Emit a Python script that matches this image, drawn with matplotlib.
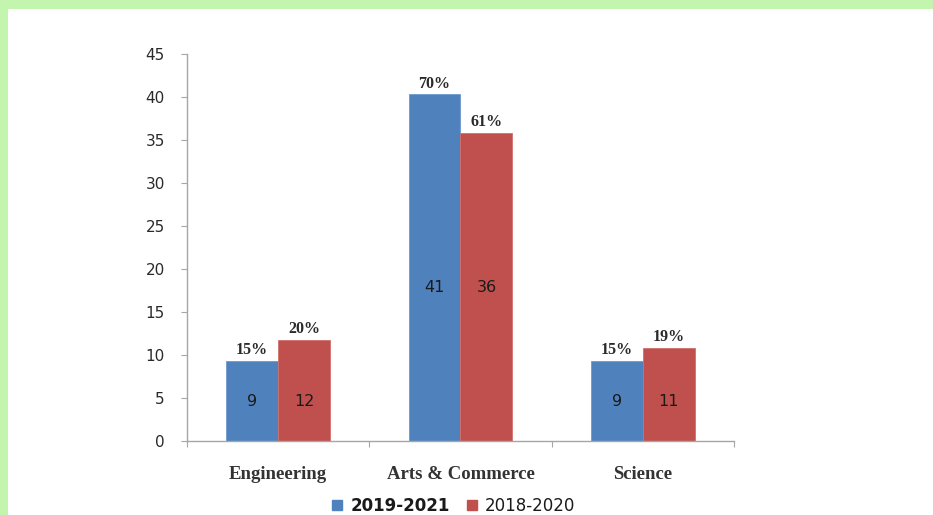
import matplotlib
matplotlib.use("Agg")
import matplotlib.pyplot as plt
from matplotlib.patches import Rectangle
from matplotlib.lines import Line2D
import numpy as np

categories = ["Engineering", "Arts & Commerce", "Science"]
series_names = ["2019-2021", "2018-2020"]
values_2019_2021 = [9.3, 40.3, 9.3]
values_2018_2020 = [11.8, 35.8, 10.8]
labels_2019_2021 = ["9", "41", "9"]
labels_2018_2020 = ["12", "36", "11"]
pct_2019_2021 = ["15%", "70%", "15%"]
pct_2018_2020 = ["20%", "61%", "19%"]
yticks = [0, 5, 10, 15, 20, 25, 30, 35, 40, 45]

blue = "#4f81bd"
red = "#c0504d"
green = "#c3f5ae"
W, H = 933, 515

fig = plt.figure(figsize=(W / 100, H / 100), dpi=100)
fig.patch.set_facecolor("white")
fig.patches.append(Rectangle((0, 1 - 9 / H), 1, 9 / H, transform=fig.transFigure,
                             facecolor=green, edgecolor="none", zorder=0))
fig.patches.append(Rectangle((0, 0), 8 / W, 1, transform=fig.transFigure,
                             facecolor=green, edgecolor="none", zorder=0))

ax = fig.add_axes([187 / W, (H - 441) / H, (734 - 187) / W, (441 - 54) / H])
x = np.arange(len(categories))
bw = 0.285
b1 = ax.bar(x - bw / 2, values_2019_2021, bw, color=blue, edgecolor="#6f9bd0", linewidth=0.6, zorder=2)
b2 = ax.bar(x + bw / 2, values_2018_2020, bw, color=red, edgecolor="#d06f6c", linewidth=0.6, zorder=2)

ax.set_xlim(-0.5, len(categories) - 0.5)
ax.set_ylim(0, 45)
ax.set_yticks(yticks)
ax.set_yticklabels([str(t) for t in yticks], fontsize=11, color="#2a2a2a", family="DejaVu Sans")
ax.tick_params(axis="y", length=4, width=0.8, color="#a6a6a6", pad=12)

ax.set_xticks(x)
ax.set_xticklabels(categories, fontsize=13.5, fontweight="bold", family="Liberation Serif", color="#333333")
ax.tick_params(axis="x", which="major", length=0, pad=18)
ax.set_xticks(np.arange(-0.5, len(categories), 1.0), minor=True)
ax.tick_params(axis="x", which="minor", length=4, width=0.8, color="#a6a6a6")

for s in ["top", "right"]:
    ax.spines[s].set_visible(False)
for s in ["left", "bottom"]:
    ax.spines[s].set_color("#a6a6a6")
    ax.spines[s].set_linewidth(1.0)

group_mid = [min(a, b) / 2 for a, b in zip(values_2019_2021, values_2018_2020)]
for bars, labs, pcts in [(b1, labels_2019_2021, pct_2019_2021), (b2, labels_2018_2020, pct_2018_2020)]:
    for rect, lab, pct, ym in zip(bars, labs, pcts, group_mid):
        cx = rect.get_x() + rect.get_width() / 2
        h = rect.get_height()
        ax.text(cx, ym, lab, ha="center", va="center", fontsize=11.5,
                family="DejaVu Sans", color="#1a1a1a", zorder=3)
        ax.annotate(pct, (cx, h), xytext=(0, 2), textcoords="offset points",
                    ha="center", va="bottom", fontsize=11.5, fontweight="bold",
                    family="Liberation Serif", color="#2a2a2a")

handles = [Line2D([], [], marker="s", linestyle="none", markersize=7, color=blue),
           Line2D([], [], marker="s", linestyle="none", markersize=7, color=red)]
leg = fig.legend(handles, series_names, loc="center", bbox_to_anchor=(452 / W, (H - 506) / H),
                 ncol=2, frameon=False, fontsize=12, handletextpad=0.3, columnspacing=0.8,
                 handlelength=1.0, borderaxespad=0, borderpad=0)
for t in leg.get_texts():
    t.set_color("#1a1a1a")
leg.get_texts()[0].set_fontweight("bold")

fig.savefig("out.png", dpi=100, facecolor="white")
